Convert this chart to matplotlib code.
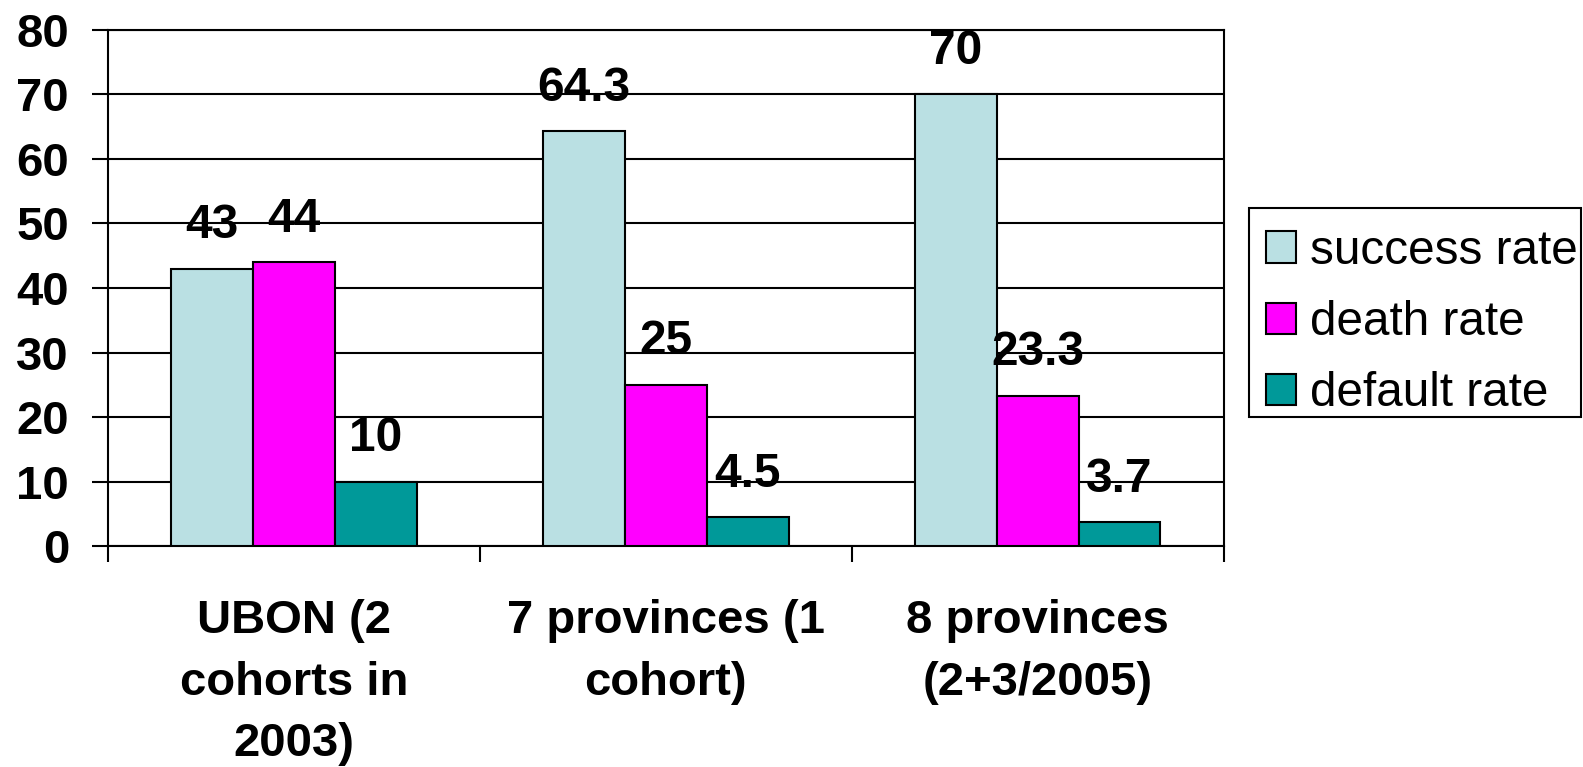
import matplotlib.pyplot as plt
from matplotlib.patches import Rectangle
import numpy as np

# chart data
categories = ["UBON (2\ncohorts in\n2003)", "7 provinces (1\ncohort)", "8 provinces\n(2+3/2005)"]
series_names = ["success rate", "death rate", "default rate"]
success_rate = [43, 64.3, 70]
death_rate = [44, 25, 23.3]
default_rate = [10, 4.5, 3.7]
value_labels = [["43", "64.3", "70"], ["44", "25", "23.3"], ["10", "4.5", "3.7"]]
colors = ["#BAE0E3", "#FF00FF", "#009999"]

plt.rcParams['font.family'] = ['Liberation Sans', 'DejaVu Sans']

W, H = 1583, 767
fig = plt.figure(figsize=(W / 100, H / 100), dpi=100)
ax = fig.add_axes([0.0682, 0.288, 0.7048, 0.673])

lw = 1.5
x = np.arange(len(categories))
w = 0.22
all_series = [success_rate, death_rate, default_rate]
for i, (vals, name, col) in enumerate(zip(all_series, series_names, colors)):
    bars = ax.bar(x + (i - 1) * w, vals, w, color=col, edgecolor='black',
                  linewidth=lw, label=name, zorder=3)
    for b, txt in zip(bars, value_labels[i]):
        ax.annotate(txt, (b.get_x() + b.get_width() / 2, b.get_height()),
                    xytext=(0, 22), textcoords='offset points',
                    ha='center', va='baseline', fontsize=34.5,
                    fontweight='bold', zorder=4)

ax.set_xlim(-0.5, 2.5)
ax.set_ylim(0, 80)
ax.set_yticks(range(0, 81, 10))
ax.yaxis.grid(True, color='black', linewidth=lw, zorder=0)
ax.tick_params(axis='y', labelsize=34, length=11.5, width=lw, pad=16.5)
for lab in ax.get_yticklabels():
    lab.set_fontweight('bold')

# category labels on major ticks, boundary ticks as minor
ax.set_xticks(x)
ax.set_xticklabels(categories, fontsize=34, fontweight='bold', linespacing=1.52)
ax.tick_params(axis='x', which='major', length=0, pad=38)
ax.set_xticks([-0.5, 0.5, 1.5, 2.5], minor=True)
ax.tick_params(axis='x', which='minor', length=11.5, width=lw)

for s in ax.spines.values():
    s.set_linewidth(lw)
    s.set_color('black')

# legend entries without frame; the box is drawn separately
ax.legend(loc='upper left', bbox_to_anchor=(1249 / W, 1 - 212 / H),
          bbox_transform=fig.transFigure, fontsize=34.3, frameon=False,
          handlelength=0.63, handleheight=0.63, handletextpad=0.3,
          labelspacing=0.55, borderpad=0.35, borderaxespad=0)
fig.add_artist(Rectangle((1249 / W, 1 - 417 / H), (1581 - 1249) / W, (417 - 208) / H,
                         transform=fig.transFigure, fill=False,
                         edgecolor='black', linewidth=lw))

fig.savefig("out.png", dpi=100)
